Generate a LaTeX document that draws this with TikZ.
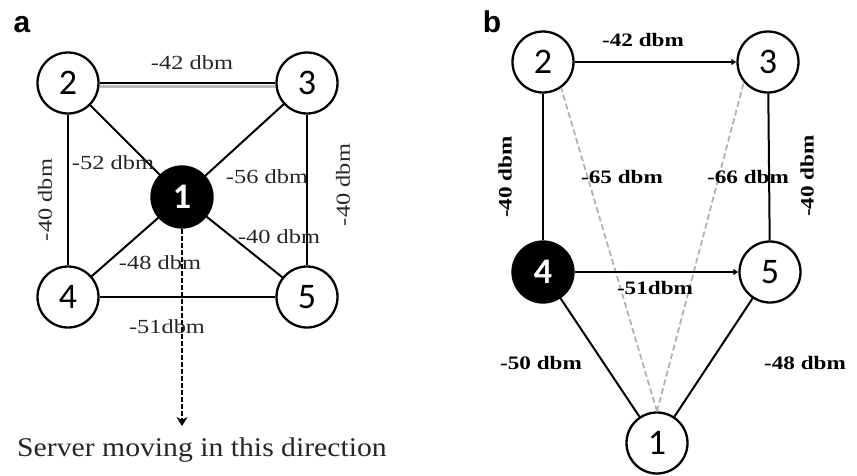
\documentclass[tikz,border=0pt]{standalone}
\usepackage{fontspec}
\usepackage{graphicx}
\setmainfont{Liberation Serif}
\newfontfamily\numfont{Carlito}
\newfontfamily\panelfont{Liberation Sans}
\usetikzlibrary{arrows.meta}

% edge labels are set slightly wide
\newcommand\sig[1]{\scalebox{1.22}[1]{#1}}

\tikzset{
  station/.style={circle, draw=black, line width=2.3pt, fill=white,
    minimum size=61pt, inner sep=0pt, font=\numfont\fontsize{36}{36}\selectfont},
  server/.style={station, fill=black, text=white,
    font=\numfont\bfseries\fontsize{36}{36}\selectfont},
  link/.style={line width=2pt, black},
  weak/.style={line width=1.8pt, gray!60, dash pattern=on 6pt off 3pt},
  siglabel/.style={inner sep=0pt, font=\fontsize{20}{20}\selectfont, text=black!85},
  boldlabel/.style={siglabel, font=\bfseries\fontsize{19}{19}\selectfont, text=black},
  panel/.style={inner sep=0pt, font=\panelfont\bfseries\fontsize{30}{30}\selectfont},
}

\begin{document}
\begin{tikzpicture}[x=1pt, y=-1pt]
\useasboundingbox (0,0) rectangle (857,475);

% ---------------- panel a ----------------
\node[panel] (pa) at (22,25) {a};

\node[station] (a2) at (68,83) {2};
\node[station] (a3) at (307,83) {3};
\node[server]  (a1) at (182,197) {1};
\node[station] (a4) at (68,297) {4};
\node[station] (a5) at (307,297) {5};

\coordinate (adir) at (182,426);

% the 2--3 link is drawn doubled with a grey shadow
\draw[line width=3.5pt, gray!55] ([yshift=-3.5pt]a2.east) -- ([yshift=-3.5pt]a3.west);
\draw[line width=2.4pt] (a2) -- (a3);
\draw[link] (a2) -- (a4);
\draw[link] (a3) -- (a5);
\draw[link] (a4) -- (a5);
\draw[link] (a2) -- (a1);
\draw[link] (a3) -- (a1);
\draw[link] (a4) -- (a1);
\draw[link] (a5) -- (a1);
\draw[line width=2pt, dash pattern=on 5pt off 2pt,
      -{Stealth[length=9pt, width=11pt]}] (a1) -- (adir);

\node[siglabel] (la23) at (192,63) {\sig{-42 dbm}};
\node[siglabel, rotate=90] (la24) at (45,200) {\sig{-40 dbm}};
\node[siglabel] (la21) at (113,163) {\sig{-52 dbm}};
\node[siglabel] (la31) at (267,177) {\sig{-56 dbm}};
\node[siglabel, rotate=90] (la35) at (343,185) {\sig{-40 dbm}};
\node[siglabel] (la51) at (279,237) {\sig{-40 dbm}};
\node[siglabel] (la41) at (160,263) {\sig{-48 dbm}};
\node[siglabel] (la45) at (167,327) {\sig{-51dbm}};

\node[inner sep=0pt, font=\fontsize{27}{27}\selectfont, text=black!85] (move) at (202,450)
  {\scalebox{1.1}[1]{Server moving in this direction}};

% ---------------- panel b ----------------
\node[panel] (pb) at (492,22) {b};

\node[station] (b2) at (543,62) {2};
\node[station] (b3) at (768,62) {3};
\node[server]  (b4) at (543,272) {4};
\node[station] (b5) at (770,272) {5};
\node[station] (b1) at (657,443) {1};

\draw[weak] (b1.north) -- (b2.-55);
\draw[weak] (b1.north) -- (b3.-140);
\draw[link, -{Latex[length=5pt, width=7pt]}] (b2) -- (b3);
\draw[link] (b2) -- (b4);
\draw[link] (b3) -- (b5);
\draw[link, -{Latex[length=5pt, width=7pt]}] (b4) -- (b5);
\draw[link] (b4) -- (b1);
\draw[link] (b5) -- (b1);

\node[boldlabel] (lb23) at (643,40) {\sig{-42 dbm}};
\node[boldlabel, rotate=90] (lb24) at (505,177) {\sig{-40 dbm}};
\node[boldlabel] (lb21) at (622,177) {\sig{-65 dbm}};
\node[boldlabel] (lb31) at (748,177) {\sig{-66 dbm}};
\node[boldlabel, rotate=90] (lb35) at (807,176) {\sig{-40 dbm}};
\node[boldlabel] (lb45) at (655,288) {\sig{-51dbm}};
\node[boldlabel] (lb41) at (541,363) {\sig{-50 dbm}};
\node[boldlabel] (lb51) at (805,363) {\sig{-48 dbm}};
\end{tikzpicture}
\end{document}
